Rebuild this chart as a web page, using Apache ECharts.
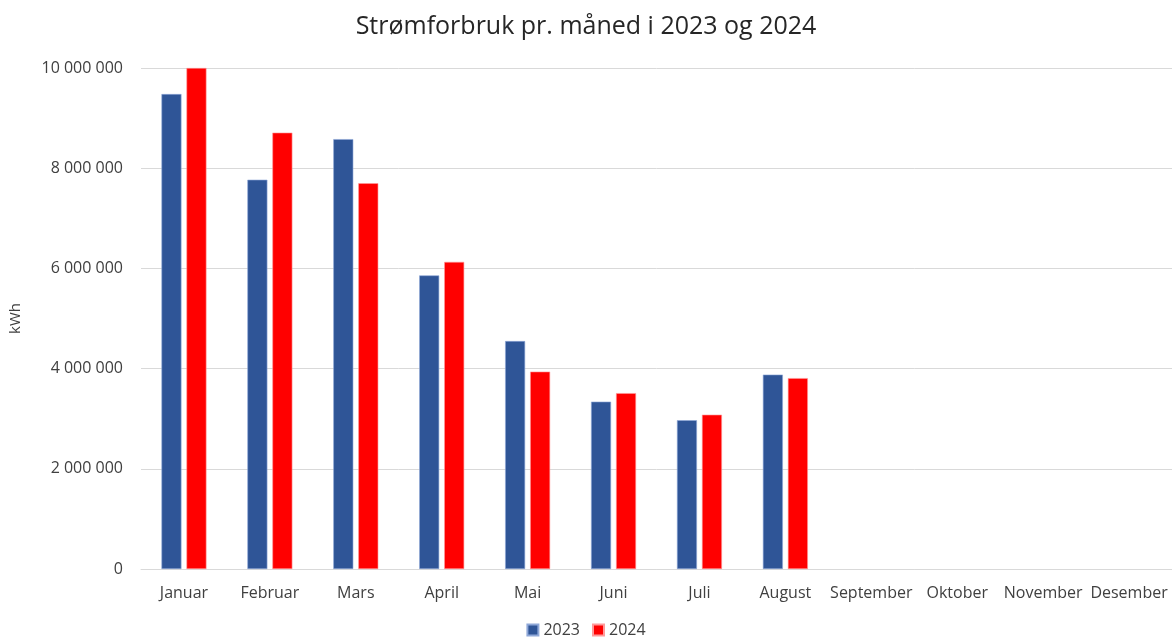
<!DOCTYPE html>
<html>
<head>
<meta charset="utf-8">
<script src="https://cdn.jsdelivr.net/npm/echarts@6/dist/echarts.min.js"></script>
<style>html,body{margin:0;padding:0;background:#fff}#c{width:1172px;height:643px}</style>
</head>
<body>
<div id="c"></div>
<script>
const categories = ['Januar','Februar','Mars','April','Mai','Juni','Juli','August','September','Oktober','November','Desember'];
const values2023 = [9480000, 7770000, 8580000, 5860000, 4550000, 3340000, 2970000, 3880000, null, null, null, null];
const values2024 = [10000000, 8710000, 7700000, 6130000, 3940000, 3510000, 3080000, 3810000, null, null, null, null];
const yTicks = { min: 0, max: 10000000, interval: 2000000 };

const font = '"Open Sans", "Noto Sans", sans-serif';
const chart = echarts.init(document.getElementById('c'));
chart.setOption({
  animation: false,
  backgroundColor: '#fff',
  title: {
    text: 'Strømforbruk pr. måned i 2023 og 2024',
    left: 'center', top: 9,
    textStyle: { fontFamily: font, fontSize: 25, fontWeight: 'normal', color: '#262626' }
  },
  legend: {
    bottom: 0, left: 'center',
    itemWidth: 11, itemHeight: 11, itemGap: 12,
    icon: 'rect',
    textStyle: { fontFamily: font, fontSize: 16, color: '#404040' },
    data: ['2023', '2024']
  },
  grid: { left: 141, width: 1033, top: 68, height: 501 },
  xAxis: {
    type: 'category',
    data: categories,
    axisLine: { lineStyle: { color: '#d9d9d9', width: 1 } },
    axisTick: { show: false },
    axisLabel: { fontFamily: font, fontSize: 16, color: '#404040', margin: 16, interval: 0 }
  },
  yAxis: {
    type: 'value',
    min: yTicks.min, max: yTicks.max, interval: yTicks.interval,
    name: 'kWh', nameLocation: 'middle', nameGap: 118, nameRotate: 90,
    nameTextStyle: { fontFamily: font, fontSize: 15, color: '#404040' },
    axisLine: { show: false },
    axisTick: { show: false },
    splitLine: { lineStyle: { color: '#d9d9d9', width: 1 } },
    axisLabel: {
      fontFamily: font, fontSize: 16, color: '#404040', margin: 18,
      formatter: v => String(v).replace(/\B(?=(\d{3})+(?!\d))/g, ' ')
    }
  },
  series: [
    { name: '2023', type: 'bar', data: values2023, barWidth: 20, barGap: '25%',
      itemStyle: { color: '#2F5597', borderColor: '#8FA8D8', borderWidth: 0.6 } },
    { name: '2024', type: 'bar', data: values2024, barWidth: 20,
      itemStyle: { color: '#FF0000', borderColor: '#FF9A9A', borderWidth: 0.6 } }
  ]
});
</script>
</body>
</html>
